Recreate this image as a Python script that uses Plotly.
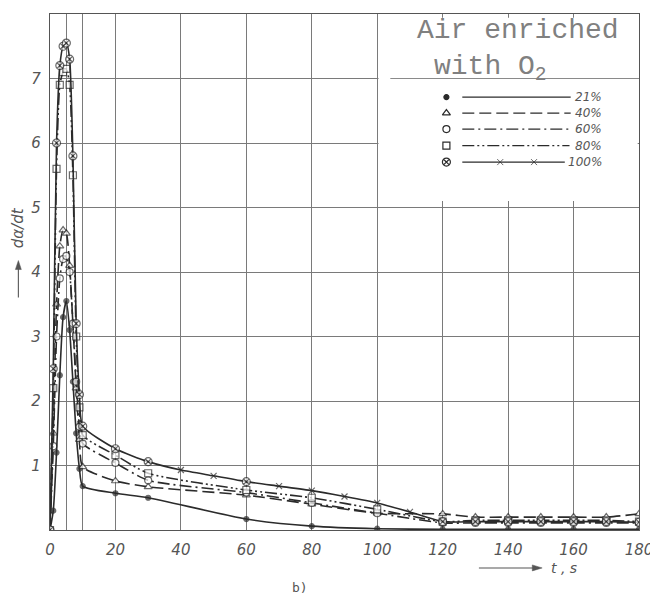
import plotly.graph_objects as go

# ---------------- data ----------------
t_21 = [0, 1, 2, 3, 4, 5, 6, 7, 8, 9, 10, 20, 30, 60, 80, 100, 120, 140, 160, 180]
v_21 = [0, 0.3, 1.2, 2.4, 3.3, 3.55, 3.1, 2.3, 1.5, 0.95, 0.68, 0.57, 0.50, 0.17, 0.06, 0.02, 0.01, 0.01, 0.01, 0.01]

t_40 = [0, 1, 2, 3, 4, 5, 6, 7, 8, 9, 10, 20, 30, 60, 80, 100, 120, 130, 140, 150, 160, 170, 180]
v_40 = [0, 1.5, 3.5, 4.4, 4.65, 4.6, 4.1, 3.2, 2.2, 1.4, 0.98, 0.76, 0.67, 0.54, 0.40, 0.26, 0.25, 0.2, 0.2, 0.2, 0.2, 0.2, 0.25]

t_60 = [0, 1, 2, 3, 4, 5, 6, 7, 8, 9, 10, 20, 30, 60, 80, 100, 120, 130, 140, 150, 160, 170, 180]
v_60 = [0, 1.3, 3.0, 3.9, 4.2, 4.25, 4.0, 3.2, 2.3, 1.6, 1.34, 1.04, 0.77, 0.58, 0.42, 0.26, 0.11, 0.11, 0.11, 0.11, 0.11, 0.11, 0.11]

t_80 = [0, 1, 2, 3, 4, 5, 6, 7, 8, 9, 10, 20, 30, 60, 80, 100, 120, 130, 140, 150, 160, 170, 180]
v_80 = [0, 2.2, 5.6, 6.9, 7.1, 7.15, 6.9, 5.5, 3.0, 1.9, 1.47, 1.16, 0.88, 0.62, 0.50, 0.32, 0.13, 0.15, 0.15, 0.15, 0.15, 0.15, 0.13]

t_100 = [0, 1, 2, 3, 4, 5, 6, 7, 8, 9, 10, 20, 30, 40, 50, 60, 70, 80, 90, 100, 110, 120, 130, 140, 150, 160, 170, 180]
v_100 = [0, 2.5, 6.0, 7.2, 7.5, 7.55, 7.3, 5.8, 3.2, 2.1, 1.61, 1.26, 1.06, 0.93, 0.84, 0.75, 0.68, 0.61, 0.52, 0.42, 0.28, 0.13, 0.13, 0.13, 0.13, 0.13, 0.13, 0.12]
# points on the 100 % curve drawn only as small "x" marks (line decoration)
x_marks_100 = [40, 50, 70, 80, 90, 100, 110]

series_names = ["21%", "40%", "60%", "80%", "100%"]

x_tickvals = [0, 20, 40, 60, 80, 100, 120, 140, 160, 180]
x_ticktext = ["0", "20", "40", "60", "80", "100", "120", "140", "160", "180"]
x_extra_grid = [5, 10]
y_tickvals = [1, 2, 3, 4, 5, 6, 7]
y_ticktext = ["1", "2", "3", "4", "5", "6", "7"]

# ---------------- styling ----------------
INK = "#2b2b2b"
GRID = "#7a7a7a"
TXT = "#555555"
TICKFONT = dict(family="DejaVu Sans", size=15, color=TXT, style="italic")

styles = {
    "21%": dict(dash="solid", symbol="circle", mcolor=INK, size=5),
    "40%": dict(dash="12px,5px", symbol="triangle-up", mcolor="white", size=7),
    "60%": dict(dash="12px,4px,2px,4px", symbol="circle", mcolor="white", size=7),
    "80%": dict(dash="12px,3px,2px,3px,2px,3px", symbol="square", mcolor="white", size=7),
    "100%": dict(dash="solid", symbol="circle-x", mcolor="white", size=8),
}

data = {
    "21%": (t_21, v_21),
    "40%": (t_40, v_40),
    "60%": (t_60, v_60),
    "80%": (t_80, v_80),
    "100%": (t_100, v_100),
}

fig = go.Figure()

for name in series_names:
    t, v = data[name]
    st = styles[name]
    symbols, sizes = [], []
    for tt in t:
        if name == "100%" and tt in x_marks_100:
            symbols.append("x-thin")
            sizes.append(6)
        else:
            symbols.append(st["symbol"])
            sizes.append(st["size"])
    fig.add_trace(go.Scatter(
        x=t, y=v, mode="lines+markers", name=name,
        line=dict(color=INK, width=1.6, dash=st["dash"], shape="spline", smoothing=0.6),
        marker=dict(symbol=symbols, size=sizes, color=st["mcolor"],
                    line=dict(color=INK, width=1.2)),
        showlegend=False, hoverinfo="skip",
    ))

# ---------------- hand-drawn style legend (layout geometry, paper units) ----------------
leg_rows_y = [0.839, 0.808, 0.777, 0.745, 0.713]
leg_marker_x = 0.673
leg_line_x0 = 0.700
leg_line_x1 = [0.884, 0.884, 0.884, 0.882, 0.874]
leg_text_x = 0.941

for i, (name, yy) in enumerate(zip(series_names, leg_rows_y)):
    st = styles[name]
    fig.add_trace(go.Scatter(
        x=[leg_marker_x], y=[yy], xaxis="x2", yaxis="y2", mode="markers",
        marker=dict(symbol=st["symbol"], size=st["size"], color=st["mcolor"],
                    line=dict(color=INK, width=1.2)),
        showlegend=False, hoverinfo="skip"))
    x1 = leg_line_x1[i]
    if name == "100%":
        xs = [leg_line_x0, leg_line_x0 + (x1 - leg_line_x0) * 0.37,
              leg_line_x0 + (x1 - leg_line_x0) * 0.70, x1]
        fig.add_trace(go.Scatter(
            x=xs, y=[yy] * 4, xaxis="x2", yaxis="y2", mode="lines+markers",
            line=dict(color=INK, width=1.3),
            marker=dict(symbol="x-thin", size=[0, 6, 6, 0], color=INK,
                        line=dict(color=INK, width=1)),
            showlegend=False, hoverinfo="skip"))
    else:
        fig.add_trace(go.Scatter(
            x=[leg_line_x0, x1], y=[yy, yy], xaxis="x2", yaxis="y2", mode="lines",
            line=dict(color=INK, width=1.3, dash=st["dash"]),
            showlegend=False, hoverinfo="skip"))
    fig.add_annotation(xref="paper", yref="paper", x=leg_text_x, y=yy, text=name,
                       showarrow=False, xanchor="right", yanchor="middle",
                       font=dict(family="DejaVu Sans", size=12, color=TXT, style="italic"))

# white box behind the legend, covering grid lines
fig.add_shape(type="rect", xref="x", yref="y", x0=100.4, x1=179.6, y0=5.1, y1=7.94,
              fillcolor="white", line=dict(width=0), layer="between")
fig.add_shape(type="line", xref="x", yref="y", x0=104, x1=180, y0=7.0, y1=7.0,
              line=dict(color="#8a8a8a", width=1), layer="above")

TITLEFONT = dict(family="Liberation Mono", size=28, color="#808080")
fig.add_annotation(xref="paper", yref="paper", x=0.620, y=0.935, text="Air enriched",
                   showarrow=False, xanchor="left", yanchor="bottom", font=TITLEFONT)
fig.add_annotation(xref="paper", yref="paper", x=0.648, y=0.933, text="with O<sub>2</sub>",
                   showarrow=False, xanchor="left", yanchor="top", font=TITLEFONT)

# axis titles with arrows (arrows as shapes)
DX = 1 / 596.0
DY = 1 / 517.0
ya_x, ya_y0, ya_y1 = -0.0537, 0.4507, 0.5222
fig.add_shape(type="line", xref="paper", yref="paper", x0=ya_x, x1=ya_x, y0=ya_y0, y1=ya_y1 - 4 * DY,
              line=dict(color=TXT, width=1.1))
fig.add_shape(type="path", xref="paper", yref="paper",
              path=f"M {ya_x} {ya_y1} L {ya_x - 3 * DX} {ya_y1 - 9 * DY} L {ya_x + 3 * DX} {ya_y1 - 9 * DY} Z",
              fillcolor=TXT, line=dict(color=TXT, width=0.5))
fig.add_annotation(xref="paper", yref="paper", x=-0.054, y=0.585, text="dα/dt",
                   textangle=-90, showarrow=False, xanchor="center", yanchor="middle",
                   font=dict(family="DejaVu Sans", size=15, color=TXT, style="italic"))

xa_y, xa_x0, xa_x1 = -0.0735, 0.7282, 0.8356
fig.add_shape(type="line", xref="paper", yref="paper", x0=xa_x0, x1=xa_x1 - 4 * DX, y0=xa_y, y1=xa_y,
              line=dict(color=TXT, width=1.1))
fig.add_shape(type="path", xref="paper", yref="paper",
              path=f"M {xa_x1} {xa_y} L {xa_x1 - 10 * DX} {xa_y + 3 * DY} L {xa_x1 - 10 * DX} {xa_y - 3 * DY} Z",
              fillcolor=TXT, line=dict(color=TXT, width=0.5))
fig.add_annotation(xref="paper", yref="paper", x=0.847, y=-0.0745, text="t , s",
                   showarrow=False, xanchor="left", yanchor="middle",
                   font=dict(family="DejaVu Sans", size=14, color=TXT, style="italic"))
fig.add_annotation(xref="paper", yref="paper", x=0.4245, y=-0.112, text="b)",
                   showarrow=False, xanchor="center", yanchor="middle",
                   font=dict(family="DejaVu Sans Mono", size=13, color=TXT))

# page has an 8px body margin -> figure is 8px smaller and margins shifted
fig.update_layout(
    width=650, height=594,
    margin=dict(l=42, r=12, t=5, b=72),
    paper_bgcolor="white", plot_bgcolor="white",
    xaxis=dict(range=[0, 180], tickmode="array", tickvals=x_tickvals, ticktext=x_ticktext,
               showgrid=True, gridcolor=GRID, gridwidth=1, zeroline=False,
               showline=True, linecolor="#555", linewidth=1.2, mirror=True,
               ticks="", tickfont=TICKFONT, ticklabelstandoff=6,
               ticklabeloverflow="allow",
               minor=dict(tickmode="array", tickvals=x_extra_grid, showgrid=True,
                          gridcolor=GRID, gridwidth=1, ticks="")),
    yaxis=dict(range=[0, 8], tickmode="array", tickvals=y_tickvals, ticktext=y_ticktext,
               showgrid=True, gridcolor=GRID, gridwidth=1, zeroline=False,
               showline=True, linecolor="#555", linewidth=1.2, mirror=True,
               ticks="", tickfont=TICKFONT, ticklabelstandoff=5),
    xaxis2=dict(overlaying="x", range=[0, 1], visible=False),
    yaxis2=dict(overlaying="y", range=[0, 1], visible=False),
)

fig.write_html("out.html")
